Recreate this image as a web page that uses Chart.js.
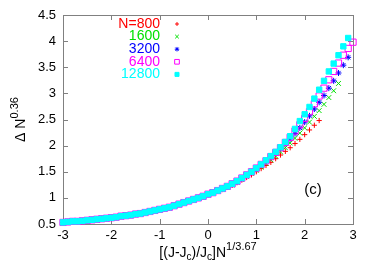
<!DOCTYPE html>
<html>
<head>
<meta charset="utf-8">
<script src="https://cdn.jsdelivr.net/npm/chart.js@4/dist/chart.umd.min.js"></script>
<style>
  body { margin: 0; background: #fff; }
</style>
</head>
<body>
<canvas id="chart" width="374" height="262"></canvas>
<script>
// x positions of the scaled data, shared by all series (each series uses as many as it has values)
const xValues = [
  -3.0, -2.9, -2.8, -2.7, -2.6, -2.5, -2.4, -2.3, -2.2, -2.1,
  -2.0, -1.9, -1.8, -1.7, -1.6, -1.5, -1.4, -1.3, -1.2, -1.1,
  -1.0, -0.9, -0.8, -0.7, -0.6, -0.5, -0.4, -0.3, -0.2, -0.1,
  0.0, 0.1, 0.2, 0.3, 0.4, 0.5, 0.6, 0.7, 0.8, 0.9,
  1.0, 1.1, 1.2, 1.3, 1.4, 1.5, 1.6, 1.7, 1.8, 1.9,
  2.0, 2.1, 2.2, 2.3, 2.4, 2.5, 2.6, 2.7, 2.8, 2.9, 3.0
];

const seriesLabels = ['N=800', '1600', '3200', '6400', '12800'];

const n800 = [
  0.53, 0.54, 0.55, 0.55, 0.56, 0.57, 0.58, 0.59, 0.60, 0.61,
  0.62, 0.63, 0.65, 0.66, 0.67, 0.69, 0.70, 0.72, 0.74, 0.76,
  0.78, 0.80, 0.82, 0.85, 0.88, 0.91, 0.94, 0.97, 1.00, 1.03,
  1.06, 1.09, 1.13, 1.16, 1.20, 1.24, 1.29, 1.34, 1.39, 1.44,
  1.50, 1.56, 1.62, 1.68, 1.75, 1.82, 1.89, 1.96, 2.04, 2.12,
  2.21, 2.30, 2.39, 2.48
];
const n1600 = [
  0.53, 0.54, 0.55, 0.55, 0.56, 0.57, 0.58, 0.59, 0.60, 0.61,
  0.62, 0.63, 0.65, 0.66, 0.67, 0.69, 0.70, 0.72, 0.74, 0.76,
  0.78, 0.80, 0.82, 0.85, 0.88, 0.91, 0.94, 0.97, 1.00, 1.03,
  1.06, 1.10, 1.13, 1.17, 1.21, 1.25, 1.30, 1.35, 1.41, 1.47,
  1.53, 1.59, 1.66, 1.73, 1.80, 1.88, 1.96, 2.05, 2.14, 2.24,
  2.34, 2.45, 2.56, 2.67, 2.79, 2.92, 3.05, 3.19
];
const n3200 = [
  0.53, 0.54, 0.55, 0.55, 0.56, 0.57, 0.58, 0.59, 0.60, 0.61,
  0.62, 0.63, 0.65, 0.66, 0.67, 0.69, 0.70, 0.72, 0.74, 0.76,
  0.78, 0.80, 0.82, 0.85, 0.88, 0.91, 0.94, 0.97, 1.00, 1.03,
  1.07, 1.10, 1.14, 1.18, 1.22, 1.26, 1.31, 1.37, 1.43, 1.49,
  1.56, 1.63, 1.70, 1.78, 1.86, 1.95, 2.04, 2.13, 2.23, 2.34,
  2.45, 2.57, 2.70, 2.83, 2.96, 3.10, 3.24, 3.39, 3.54, 3.69
];
const n6400 = [
  0.53, 0.54, 0.55, 0.55, 0.56, 0.57, 0.58, 0.59, 0.60, 0.61,
  0.62, 0.63, 0.65, 0.66, 0.67, 0.69, 0.70, 0.72, 0.74, 0.76,
  0.78, 0.80, 0.82, 0.85, 0.88, 0.91, 0.94, 0.97, 1.00, 1.03,
  1.07, 1.10, 1.14, 1.18, 1.22, 1.27, 1.32, 1.38, 1.44, 1.50,
  1.57, 1.64, 1.71, 1.79, 1.87, 1.96, 2.06, 2.16, 2.28, 2.40,
  2.52, 2.65, 2.80, 2.95, 3.10, 3.26, 3.42, 3.58, 3.73, 3.86, 3.98
];
const n12800 = [
  0.53, 0.54, 0.55, 0.55, 0.56, 0.57, 0.58, 0.59, 0.60, 0.61,
  0.62, 0.63, 0.65, 0.66, 0.67, 0.69, 0.70, 0.72, 0.74, 0.76,
  0.78, 0.80, 0.82, 0.85, 0.88, 0.91, 0.94, 0.97, 1.00, 1.03,
  1.07, 1.10, 1.14, 1.18, 1.22, 1.27, 1.32, 1.38, 1.44, 1.50,
  1.57, 1.64, 1.72, 1.80, 1.88, 1.97, 2.07, 2.18, 2.32, 2.47,
  2.60, 2.74, 2.90, 3.07, 3.24, 3.42, 3.57, 3.73, 3.90, 4.06
];

const xTicks = [-3, -2, -1, 0, 1, 2, 3];
const yTicks = [0.5, 1, 1.5, 2, 2.5, 3, 3.5, 4, 4.5];

const FONT = "'Liberation Sans', Arial, sans-serif";
const FRAME = '#808080';

const styles = [
  { color: '#ff0000', pointStyle: 'cross', radius: 2.6, fill: false },
  { color: '#00e000', pointStyle: 'crossRot', radius: 3.4, fill: false },
  { color: '#0000ff', pointStyle: 'star', radius: 3.0, fill: false },
  { color: '#ff00ff', pointStyle: 'rect', radius: 4.4, fill: false },
  { color: '#00ffff', pointStyle: 'rect', radius: 3.8, fill: true }
];
const allSeries = [n800, n1600, n3200, n6400, n12800];

const datasets = allSeries.map((ys, i) => ({
  label: seriesLabels[i],
  data: ys.map((y, k) => ({ x: xValues[k], y: y })),
  showLine: false,
  pointStyle: styles[i].pointStyle,
  pointRadius: styles[i].radius,
  borderColor: styles[i].color,
  backgroundColor: styles[i].fill ? styles[i].color : 'rgba(0,0,0,0)',
  pointBorderWidth: 1,
  order: allSeries.length - i,
  clip: false
}));

// text with sub/superscripts; parts: [text, size, dy]
function richWidth(ctx, parts) {
  let w = 0;
  parts.forEach(p => { ctx.font = p[1] + 'px ' + FONT; w += ctx.measureText(p[0]).width; });
  return w;
}
function drawRich(ctx, parts, x, y) {
  let cx = x;
  parts.forEach(p => {
    ctx.font = p[1] + 'px ' + FONT;
    ctx.fillText(p[0], cx, y + p[2]);
    cx += ctx.measureText(p[0]).width;
  });
}

const framePlugin = {
  id: 'frame',
  beforeDatasetsDraw(chart) {
    const { ctx, chartArea: a, scales } = chart;
    ctx.save();
    ctx.strokeStyle = FRAME;
    ctx.lineWidth = 1;
    ctx.strokeRect(a.left + 0.5, a.top + 0.5, a.right - a.left, a.bottom - a.top);
    ctx.beginPath();
    const tl = 5;
    xTicks.forEach(v => {
      const px = Math.round(scales.x.getPixelForValue(v)) + 0.5;
      ctx.moveTo(px, a.bottom); ctx.lineTo(px, a.bottom - tl);
      ctx.moveTo(px, a.top); ctx.lineTo(px, a.top + tl);
    });
    yTicks.forEach(v => {
      const py = Math.round(scales.y.getPixelForValue(v)) + 0.5;
      ctx.moveTo(a.left, py); ctx.lineTo(a.left + tl, py);
      ctx.moveTo(a.right, py); ctx.lineTo(a.right - tl, py);
    });
    ctx.stroke();
    ctx.restore();
  },
  afterDraw(chart) {
    const { ctx, chartArea: a } = chart;
    ctx.save();
    ctx.fillStyle = '#000';
    ctx.textBaseline = 'alphabetic';

    // x axis title
    const xParts = [['[(J-J', 14, 0], ['c', 10, 3], [')/J', 14, 0], ['c', 10, 3], [']N', 14, 0], ['1/3.67', 11, -7]];
    const xw = richWidth(ctx, xParts);
    drawRich(ctx, xParts, (a.left + a.right) / 2 - xw / 2, 257);

    // y axis title, rotated
    const yParts = [['\u0394 N', 14, 0], ['0.36', 11, -7]];
    const yw = richWidth(ctx, yParts);
    ctx.translate(25, (a.top + a.bottom) / 2);
    ctx.rotate(-Math.PI / 2);
    drawRich(ctx, yParts, -yw / 2, 0);
    ctx.setTransform(1, 0, 0, 1, 0, 0);

    // panel tag
    ctx.font = '15px ' + FONT;
    ctx.textAlign = 'center';
    ctx.textBaseline = 'middle';
    ctx.fillText('(c)', 313, 190);

    // legend, gnuplot style
    ctx.font = '14px ' + FONT;
    ctx.textAlign = 'right';
    ctx.textBaseline = 'middle';
    seriesLabels.forEach((lab, i) => {
      const y = 24 + i * 12.6;
      ctx.fillStyle = styles[i].color;
      ctx.fillText(lab, 160, y);
      ctx.strokeStyle = styles[i].color;
      ctx.fillStyle = styles[i].fill ? styles[i].color : 'rgba(0,0,0,0)';
      ctx.lineWidth = 1;
      Chart.helpers.drawPoint(ctx, {
        pointStyle: styles[i].pointStyle,
        radius: styles[i].radius * 0.75,
        rotation: 0,
        borderWidth: 1
      }, 177, y);
    });
    ctx.restore();
  }
};

new Chart(document.getElementById('chart'), {
  type: 'scatter',
  data: { datasets: datasets },
  options: {
    responsive: false,
    animation: false,
    devicePixelRatio: 1,
    layout: { padding: { top: 15, right: 21, left: 0, bottom: 0 } },
    plugins: { legend: { display: false }, tooltip: { enabled: false } },
    scales: {
      x: {
        type: 'linear',
        min: -3, max: 3,
        afterBuildTicks: s => { s.ticks = xTicks.map(v => ({ value: v })); },
        afterFit: s => { s.height = 38; },
        grid: { display: false, drawTicks: false },
        border: { display: false },
        ticks: { color: '#000', padding: 4, font: { family: FONT, size: 13 }, callback: v => String(v) }
      },
      y: {
        type: 'linear',
        min: 0.5, max: 4.5,
        afterBuildTicks: s => { s.ticks = yTicks.map(v => ({ value: v })); },
        afterFit: s => { s.width = 63; },
        grid: { display: false, drawTicks: false },
        border: { display: false },
        ticks: { color: '#000', padding: 7, font: { family: FONT, size: 13 }, callback: v => String(v) }
      }
    }
  },
  plugins: [framePlugin]
});
</script>
</body>
</html>
